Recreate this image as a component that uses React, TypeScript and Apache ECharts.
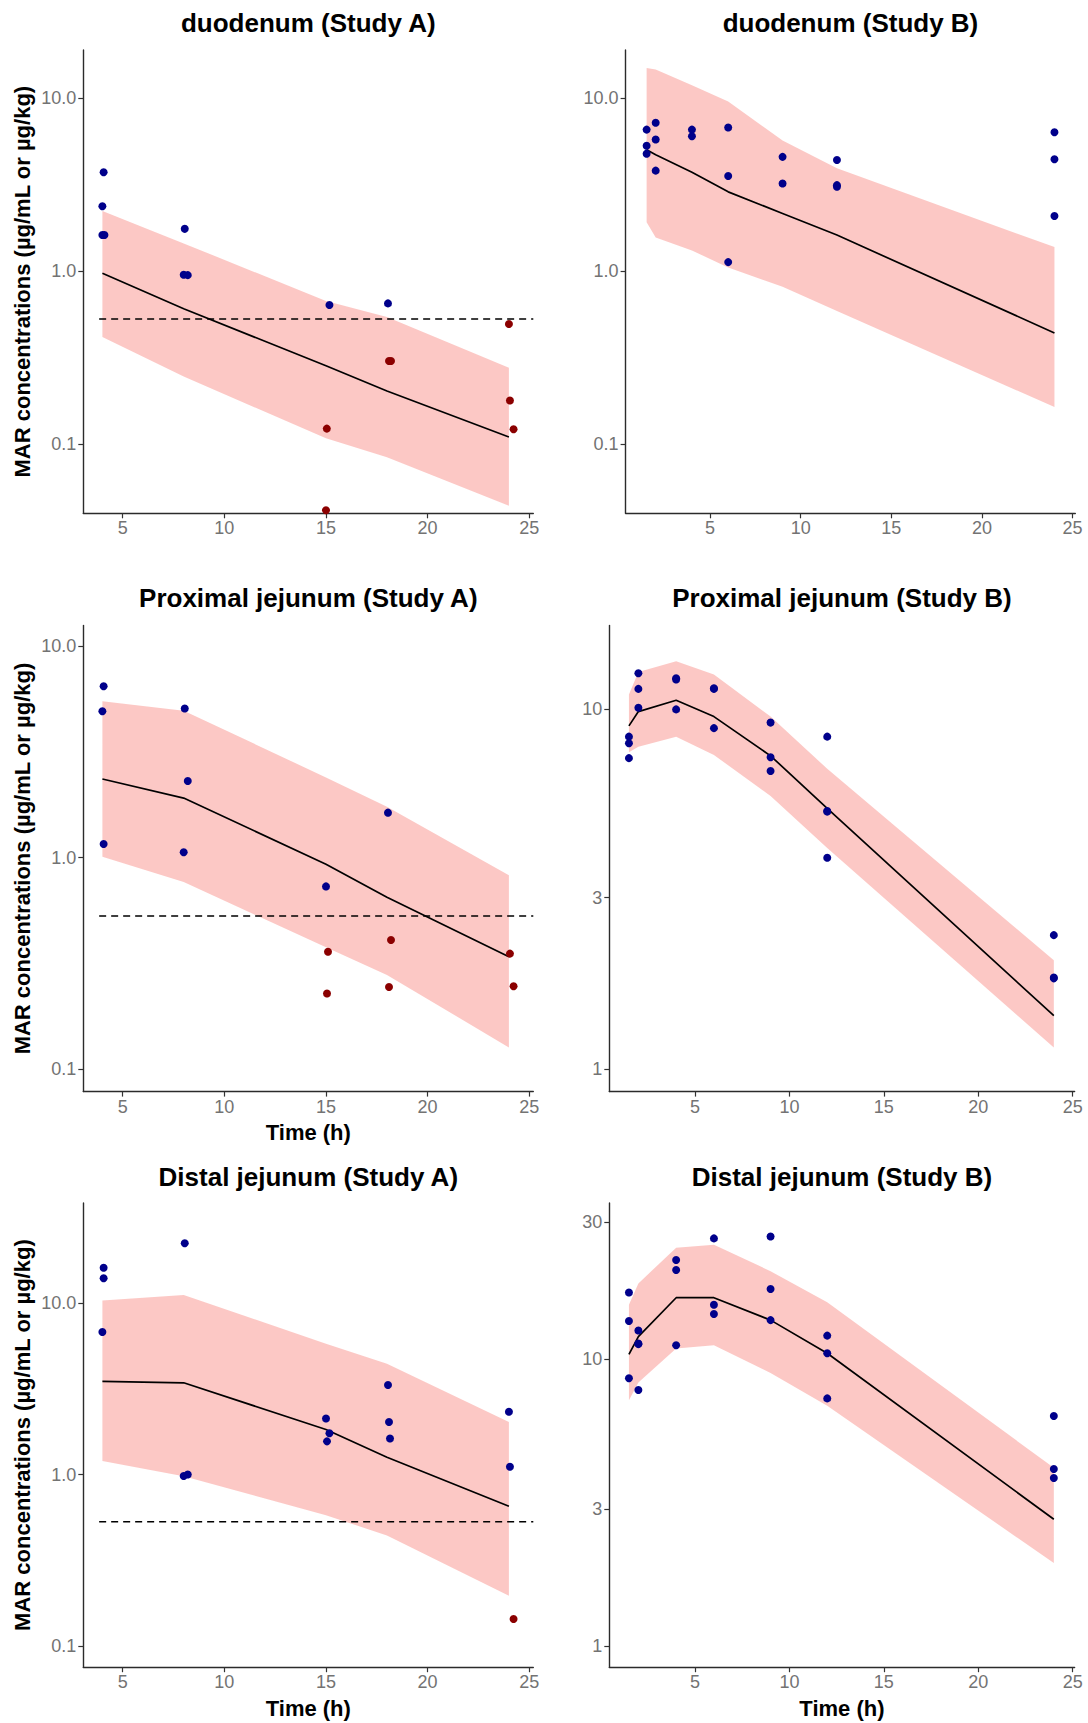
import React, { useEffect, useRef } from "react";
import * as echarts from "echarts";

const FONT = '"Liberation Sans", Arial, Helvetica, sans-serif';
const BLUE = "#00008B";
const RED = "#8B0000";
const RIBBON = "rgba(248,118,109,0.4)";

// ---------- data ----------
const loqValue = 0.53;
const loqStart = 3.84;
const xTicks = [5, 10, 15, 20, 25];
const yTicksDecade = [0.1, 1, 10];
const yTicksB = [1, 3, 10, 30];

// duodenum (Study A)
const duoA_times = [4, 8, 15, 18, 24];
const duoA_median = [0.975, 0.607, 0.284, 0.203, 0.11];
const duoA_lower = [0.417, 0.246, 0.108, 0.084, 0.044];
const duoA_upper = [2.23, 1.45, 0.673, 0.543, 0.277];
const duoA_obs = [[4.06, 3.74], [4.0, 2.38], [4.0, 1.62], [4.1, 1.62], [8.05, 1.76], [8.0, 0.955], [8.2, 0.95], [15.17, 0.638], [18.05, 0.652]];
const duoA_blq = [[24.0, 0.495], [18.1, 0.303], [18.2, 0.303], [24.05, 0.179], [15.04, 0.123], [24.23, 0.122], [15.0, 0.0415]];

// duodenum (Study B)
const duoB_times = [1.5, 2, 4, 6, 9, 12, 24];
const duoB_median = [5.05, 4.72, 3.74, 2.88, 2.16, 1.62, 0.44];
const duoB_lower = [1.92, 1.57, 1.32, 1.05, 0.815, 0.589, 0.164];
const duoB_upper = [15.0, 14.7, 11.9, 9.6, 5.7, 3.94, 1.38];
const duoB_obs = [[1.5, 6.6], [1.5, 5.32], [1.5, 4.79], [2, 7.23], [2, 5.78], [2, 3.82], [4, 6.6], [4, 6.04], [6, 6.79], [6, 3.56], [6, 1.13], [9, 4.59], [9, 3.22], [12, 4.4], [12, 3.15], [12, 3.08], [24, 6.37], [24, 4.45], [24, 2.09]];
const duoB_blq: number[][] = [];

// Proximal jejunum (Study A)
const pjA_times = [4, 8, 15, 18, 24];
const pjA_median = [2.35, 1.91, 0.931, 0.649, 0.34];
const pjA_lower = [1.01, 0.767, 0.377, 0.279, 0.127];
const pjA_upper = [5.47, 4.94, 2.39, 1.74, 0.826];
const pjA_obs = [[4.06, 6.44], [4.0, 4.91], [4.06, 1.16], [8.05, 5.06], [8.2, 2.3], [8.0, 1.06], [18.05, 1.63], [15.0, 0.731]];
const pjA_blq = [[18.2, 0.408], [15.1, 0.359], [24.05, 0.352], [18.1, 0.245], [24.23, 0.247], [15.05, 0.228]];

// Proximal jejunum (Study B)
const pjB_times = [1.5, 2, 4, 6, 9, 12, 24];
const pjB_median = [9.0, 9.86, 10.6, 9.55, 7.43, 5.31, 1.41];
const pjB_lower = [7.6, 7.88, 8.4, 7.47, 5.75, 4.12, 1.15];
const pjB_upper = [11.0, 12.7, 13.6, 12.5, 9.55, 6.84, 2.01];
const pjB_obs = [[1.5, 8.4], [1.5, 8.05], [1.5, 7.32], [2, 12.6], [2, 11.4], [2, 10.1], [4, 12.1], [4, 12.2], [4, 10.0], [6, 11.4], [6, 11.45], [6, 8.87], [9, 9.19], [9, 7.36], [9, 6.74], [12, 8.4], [12, 5.22], [12, 5.2], [12, 3.87], [24, 2.36], [24, 1.79], [24, 1.8]];
const pjB_blq: number[][] = [];

// Distal jejunum (Study A)
const djA_times = [4, 8, 15, 18, 24];
const djA_median = [3.49, 3.42, 1.83, 1.26, 0.653];
const djA_lower = [1.2, 0.976, 0.58, 0.441, 0.197];
const djA_upper = [10.3, 11.1, 5.77, 4.41, 2.02];
const djA_obs = [[4.06, 16.0], [4.06, 13.9], [4.0, 6.76], [8.05, 22.2], [8.0, 0.98], [8.2, 1.0], [15.0, 2.12], [15.17, 1.74], [15.05, 1.56], [18.05, 3.32], [18.1, 2.02], [18.15, 1.62], [24.0, 2.32], [24.05, 1.11]];
const djA_blq = [[24.23, 0.144]];

// Distal jejunum (Study B)
const djB_times = [1.5, 2, 4, 6, 9, 12, 24];
const djB_median = [10.4, 12.0, 16.4, 16.4, 13.7, 10.5, 2.77];
const djB_lower = [7.2, 8.3, 10.9, 11.2, 8.97, 6.89, 1.95];
const djB_upper = [15.5, 18.4, 24.5, 25.1, 20.3, 15.8, 4.19];
const djB_obs = [[1.5, 17.1], [1.5, 13.6], [1.5, 8.59], [2, 12.6], [2, 11.3], [2, 11.35], [2, 7.82], [4, 22.2], [4, 20.5], [4, 11.2], [6, 26.4], [6, 15.5], [6, 14.4], [9, 26.8], [9, 17.6], [9, 13.7], [12, 12.1], [12, 10.5], [12, 7.31], [24, 6.35], [24, 4.15], [24, 3.86]];
const djB_blq: number[][] = [];

// ---------- layout ----------
type Panel = {
  title: string;
  times: number[]; median: number[]; lower: number[]; upper: number[];
  obs: number[][]; blq: number[][];
  loq: boolean;
  yTicks: number[]; yFmt: (v: number) => string;
  left: number; right: number; top: number; bottom: number;
  xMin: number; xMax: number; yMin: number; yMax: number; // y limits as log10
  titleY: number; yTitle: boolean; xTitle: boolean; xTitleY: number;
};

const fmtDec = (v: number) => v.toFixed(1);
const fmtInt = (v: number) => String(Math.round(v));

const panels: Panel[] = [
  { title: "duodenum (Study A)", times: duoA_times, median: duoA_median, lower: duoA_lower, upper: duoA_upper, obs: duoA_obs, blq: duoA_blq, loq: true,
    yTicks: yTicksDecade, yFmt: fmtDec, left: 83.3, right: 533.3, top: 50, bottom: 513.3, xMin: 3.06, xMax: 25.2, yMin: -1.4, yMax: 1.28,
    titleY: 23, yTitle: true, xTitle: false, xTitleY: 0 },
  { title: "duodenum (Study B)", times: duoB_times, median: duoB_median, lower: duoB_lower, upper: duoB_upper, obs: duoB_obs, blq: duoB_blq, loq: false,
    yTicks: yTicksDecade, yFmt: fmtDec, left: 625.6, right: 1075.3, top: 50, bottom: 513.3, xMin: 0.34, xMax: 25.15, yMin: -1.4, yMax: 1.28,
    titleY: 23, yTitle: false, xTitle: false, xTitleY: 0 },
  { title: "Proximal jejunum (Study A)", times: pjA_times, median: pjA_median, lower: pjA_lower, upper: pjA_upper, obs: pjA_obs, blq: pjA_blq, loq: true,
    yTicks: yTicksDecade, yFmt: fmtDec, left: 83.3, right: 533.3, top: 625.5, bottom: 1091.6, xMin: 3.06, xMax: 25.2, yMin: -1.105, yMax: 1.096,
    titleY: 597.7, yTitle: true, xTitle: true, xTitleY: 1132.3 },
  { title: "Proximal jejunum (Study B)", times: pjB_times, median: pjB_median, lower: pjB_lower, upper: pjB_upper, obs: pjB_obs, blq: pjB_blq, loq: false,
    yTicks: yTicksB, yFmt: fmtInt, left: 609.3, right: 1074.6, top: 625.5, bottom: 1091.6, xMin: 0.46, xMax: 25.1, yMin: -0.0617, yMax: 1.233,
    titleY: 597.7, yTitle: false, xTitle: false, xTitleY: 0 },
  { title: "Distal jejunum (Study A)", times: djA_times, median: djA_median, lower: djA_lower, upper: djA_upper, obs: djA_obs, blq: djA_blq, loq: true,
    yTicks: yTicksDecade, yFmt: fmtDec, left: 83.3, right: 533.3, top: 1203, bottom: 1667.2, xMin: 3.06, xMax: 25.2, yMin: -1.122, yMax: 1.581,
    titleY: 1177.4, yTitle: true, xTitle: true, xTitleY: 1708.5 },
  { title: "Distal jejunum (Study B)", times: djB_times, median: djB_median, lower: djB_lower, upper: djB_upper, obs: djB_obs, blq: djB_blq, loq: false,
    yTicks: yTicksB, yFmt: fmtInt, left: 609.3, right: 1074.6, top: 1203, bottom: 1667.2, xMin: 0.46, xMax: 25.1, yMin: -0.073, yMax: 1.545,
    titleY: 1177.4, yTitle: false, xTitle: true, xTitleY: 1708.5 },
];

const L = (v: number) => Math.log10(v);

function buildOption() {
  const grid: any[] = [];
  const xAxis: any[] = [];
  const yAxis: any[] = [];
  const series: any[] = [];
  const graphic: any[] = [];

  panels.forEach((p, gi) => {
    grid.push({ left: p.left, top: p.top, width: p.right - p.left, height: p.bottom - p.top, outerBoundsMode: "none", containLabel: false });
    const axisLine = { show: true, onZero: false, lineStyle: { color: "#2b2b2b", width: 1.4 } };
    xAxis.push({
      type: "value", gridIndex: gi, min: p.xMin, max: p.xMax,
      axisLine, splitLine: { show: false },
      axisTick: { show: true, length: 5, lineStyle: { color: "#333", width: 1.2 }, customValues: xTicks },
      axisLabel: { customValues: xTicks, color: "#737373", fontSize: 18, fontFamily: FONT, margin: 6 },
    });
    const yt = p.yTicks.map(L);
    yAxis.push({
      type: "value", gridIndex: gi, min: p.yMin, max: p.yMax,
      axisLine, splitLine: { show: false },
      axisTick: { show: true, length: 5, lineStyle: { color: "#333", width: 1.2 }, customValues: yt },
      axisLabel: { customValues: yt, color: "#737373", fontSize: 18, fontFamily: FONT, margin: 7,
        formatter: (v: number) => p.yFmt(Math.pow(10, v)) },
    });

    // prediction interval ribbon
    series.push({
      type: "custom", xAxisIndex: gi, yAxisIndex: gi, z: 1,
      data: p.times.map((t, i) => [t, L(p.lower[i]), L(p.upper[i])]),
      encode: { x: 0, y: [1, 2] },
      renderItem: (params: any, api: any) => {
        if (params.dataIndex !== 0) return null;
        const top = p.times.map((t, i) => api.coord([t, L(p.upper[i])]));
        const bot = p.times.map((t, i) => api.coord([t, L(p.lower[i])])).reverse();
        return { type: "polygon", shape: { points: top.concat(bot) }, style: { fill: RIBBON } };
      },
    });
    // median
    series.push({
      type: "line", xAxisIndex: gi, yAxisIndex: gi, z: 3, showSymbol: false, silent: true,
      data: p.times.map((t, i) => [t, L(p.median[i])]),
      lineStyle: { color: "#000", width: 1.7 },
    });
    if (p.loq) {
      series.push({
        type: "line", xAxisIndex: gi, yAxisIndex: gi, z: 3, showSymbol: false, silent: true,
        data: [[loqStart, L(loqValue)], [p.xMax, L(loqValue)]],
        lineStyle: { color: "#000", width: 1.5, type: [7, 5] },
      });
    }
    series.push({
      type: "scatter", xAxisIndex: gi, yAxisIndex: gi, z: 4, symbolSize: 8,
      data: p.obs.map((d) => [d[0], L(d[1])]),
      itemStyle: { color: BLUE, opacity: 1 },
    });
    if (p.blq.length) {
      series.push({
        type: "scatter", xAxisIndex: gi, yAxisIndex: gi, z: 4, symbolSize: 8,
        data: p.blq.map((d) => [d[0], L(d[1])]),
        itemStyle: { color: RED, opacity: 1 },
      });
    }

    const cx = (p.left + p.right) / 2;
    graphic.push({
      type: "text", x: cx, y: p.titleY,
      style: { text: p.title, fill: "#000", fontSize: 26, fontWeight: "bold", fontFamily: FONT, align: "center", verticalAlign: "middle" },
    });
    if (p.yTitle) {
      graphic.push({
        type: "text", x: 22.7, y: (p.top + p.bottom) / 2, rotation: Math.PI / 2,
        style: { text: "MAR concentrations (µg/mL or µg/kg)", fill: "#000", fontSize: 22, fontWeight: "bold", fontFamily: FONT, align: "center", verticalAlign: "middle" },
      });
    }
    if (p.xTitle) {
      graphic.push({
        type: "text", x: cx, y: p.xTitleY,
        style: { text: "Time (h)", fill: "#000", fontSize: 22, fontWeight: "bold", fontFamily: FONT, align: "center", verticalAlign: "middle" },
      });
    }
  });

  return {
    animation: false,
    backgroundColor: "#ffffff",
    textStyle: { fontFamily: FONT },
    grid, xAxis, yAxis, series, graphic,
  };
}

export default function App() {
  const ref = useRef<HTMLDivElement>(null);
  useEffect(() => {
    document.body.style.margin = "0";
    document.body.style.overflow = "hidden";
    const chart = echarts.init(ref.current!, undefined, { renderer: "svg" });
    chart.setOption(buildOption() as any);
    return () => chart.dispose();
  }, []);
  return <div ref={ref} style={{ width: 1088, height: 1723, background: "#fff" }} />;
}
